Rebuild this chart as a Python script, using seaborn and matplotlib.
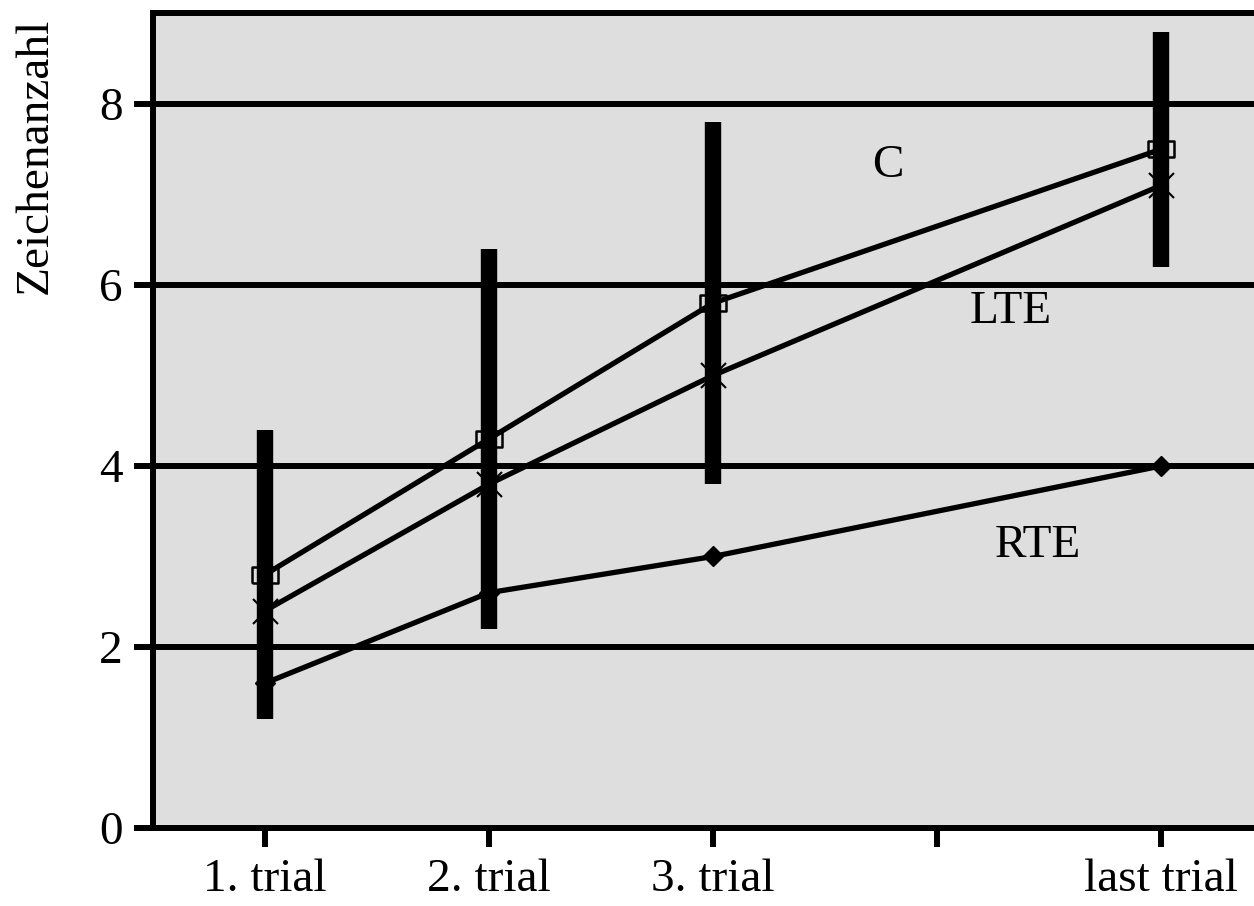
import numpy as np
import pandas as pd
import matplotlib
matplotlib.use("Agg")
import matplotlib.pyplot as plt
import seaborn as sns

# trial positions on the x axis (position 4 is an unlabelled gap before the last trial)
trial_pos = [1, 2, 3, 5]
tick_pos = [1, 2, 3, 4, 5]
tick_labels = ["1. trial", "2. trial", "3. trial", "", "last trial"]

# mean character counts per condition
c_vals = [2.8, 4.3, 5.8, 7.5]
lte_vals = [2.4, 3.8, 5.0, 7.1]
rte_vals = [1.6, 2.6, 3.0, 4.0]

# spread (range bars) per trial
bar_low = [1.2, 2.2, 3.8, 6.2]
bar_high = [4.4, 6.4, 7.8, 8.8]

sns.set_theme(style="white")
plt.rcParams["font.family"] = ["Liberation Serif", "DejaVu Serif"]
plt.rcParams["text.color"] = "black"
plt.rcParams["axes.labelcolor"] = "black"
plt.rcParams["xtick.color"] = "black"
plt.rcParams["ytick.color"] = "black"

FS = 34

fig = plt.figure(figsize=(12.54, 9.06), dpi=100)
ax = fig.add_axes([0.122, 0.0861, 0.878, 0.899])
ax.set_facecolor("#dedede")

df = pd.DataFrame({
    "trial": trial_pos * 3,
    "count": c_vals + lte_vals + rte_vals,
    "cond": ["C"] * 4 + ["LTE"] * 4 + ["RTE"] * 4,
})

# horizontal grid lines
for y in [2, 4, 6, 8]:
    ax.axhline(y, color="black", lw=4.3, zorder=1)

# range bars
ax.vlines(trial_pos, bar_low, bar_high, colors="black", lw=11.8, zorder=2)

sns.lineplot(data=df, x="trial", y="count", hue="cond",
             palette={"C": "black", "LTE": "black", "RTE": "black"},
             lw=3.8, legend=False, ax=ax, zorder=3)

# markers per condition
rect = [(-1, -0.6), (1, -0.6), (1, 0.6), (-1, 0.6), (-1, -0.6)]
ax.plot(trial_pos, c_vals, ls="none", marker=rect, ms=19, mfc="none",
        mec="black", mew=1.8, zorder=4)
ax.plot(trial_pos, lte_vals, ls="none", marker="x", ms=18, mec="black",
        mew=1.5, zorder=4)
ax.plot(trial_pos, rte_vals, ls="none", marker="D", ms=10, mfc="black",
        mec="black", zorder=4)

# condition labels
ax.text(3.78, 7.32, "C", fontsize=FS, ha="center", va="center")
ax.text(4.33, 5.70, "LTE", fontsize=FS, ha="center", va="center")
ax.text(4.45, 3.12, "RTE", fontsize=FS, ha="center", va="center")

ax.set_xlim(0.5, 5.415)
ax.set_ylim(0, 9)
ax.set_xticks(tick_pos)
ax.set_xticklabels(tick_labels, fontsize=FS)
ax.set_yticks([0, 2, 4, 6, 8])
ax.set_yticklabels(["0", "2", "4", "6", "8"], fontsize=FS)
ax.set_xlabel("")
ax.set_ylabel("Zeichenanzahl", fontsize=FS)
ax.yaxis.set_label_coords(-0.107, 0.995)
ax.yaxis.label.set_horizontalalignment("right")
ax.yaxis.label.set_verticalalignment("center")

for side in ["left", "bottom", "top"]:
    ax.spines[side].set_visible(True)
    ax.spines[side].set_color("black")
    ax.spines[side].set_linewidth(4.3)
ax.spines["right"].set_visible(False)

ax.tick_params(axis="both", direction="out", length=14, width=4.3,
               color="black", labelcolor="black", pad=8,
               bottom=True, left=True)
ax.grid(False)

fig.savefig("out.png", dpi=100, facecolor="white")
